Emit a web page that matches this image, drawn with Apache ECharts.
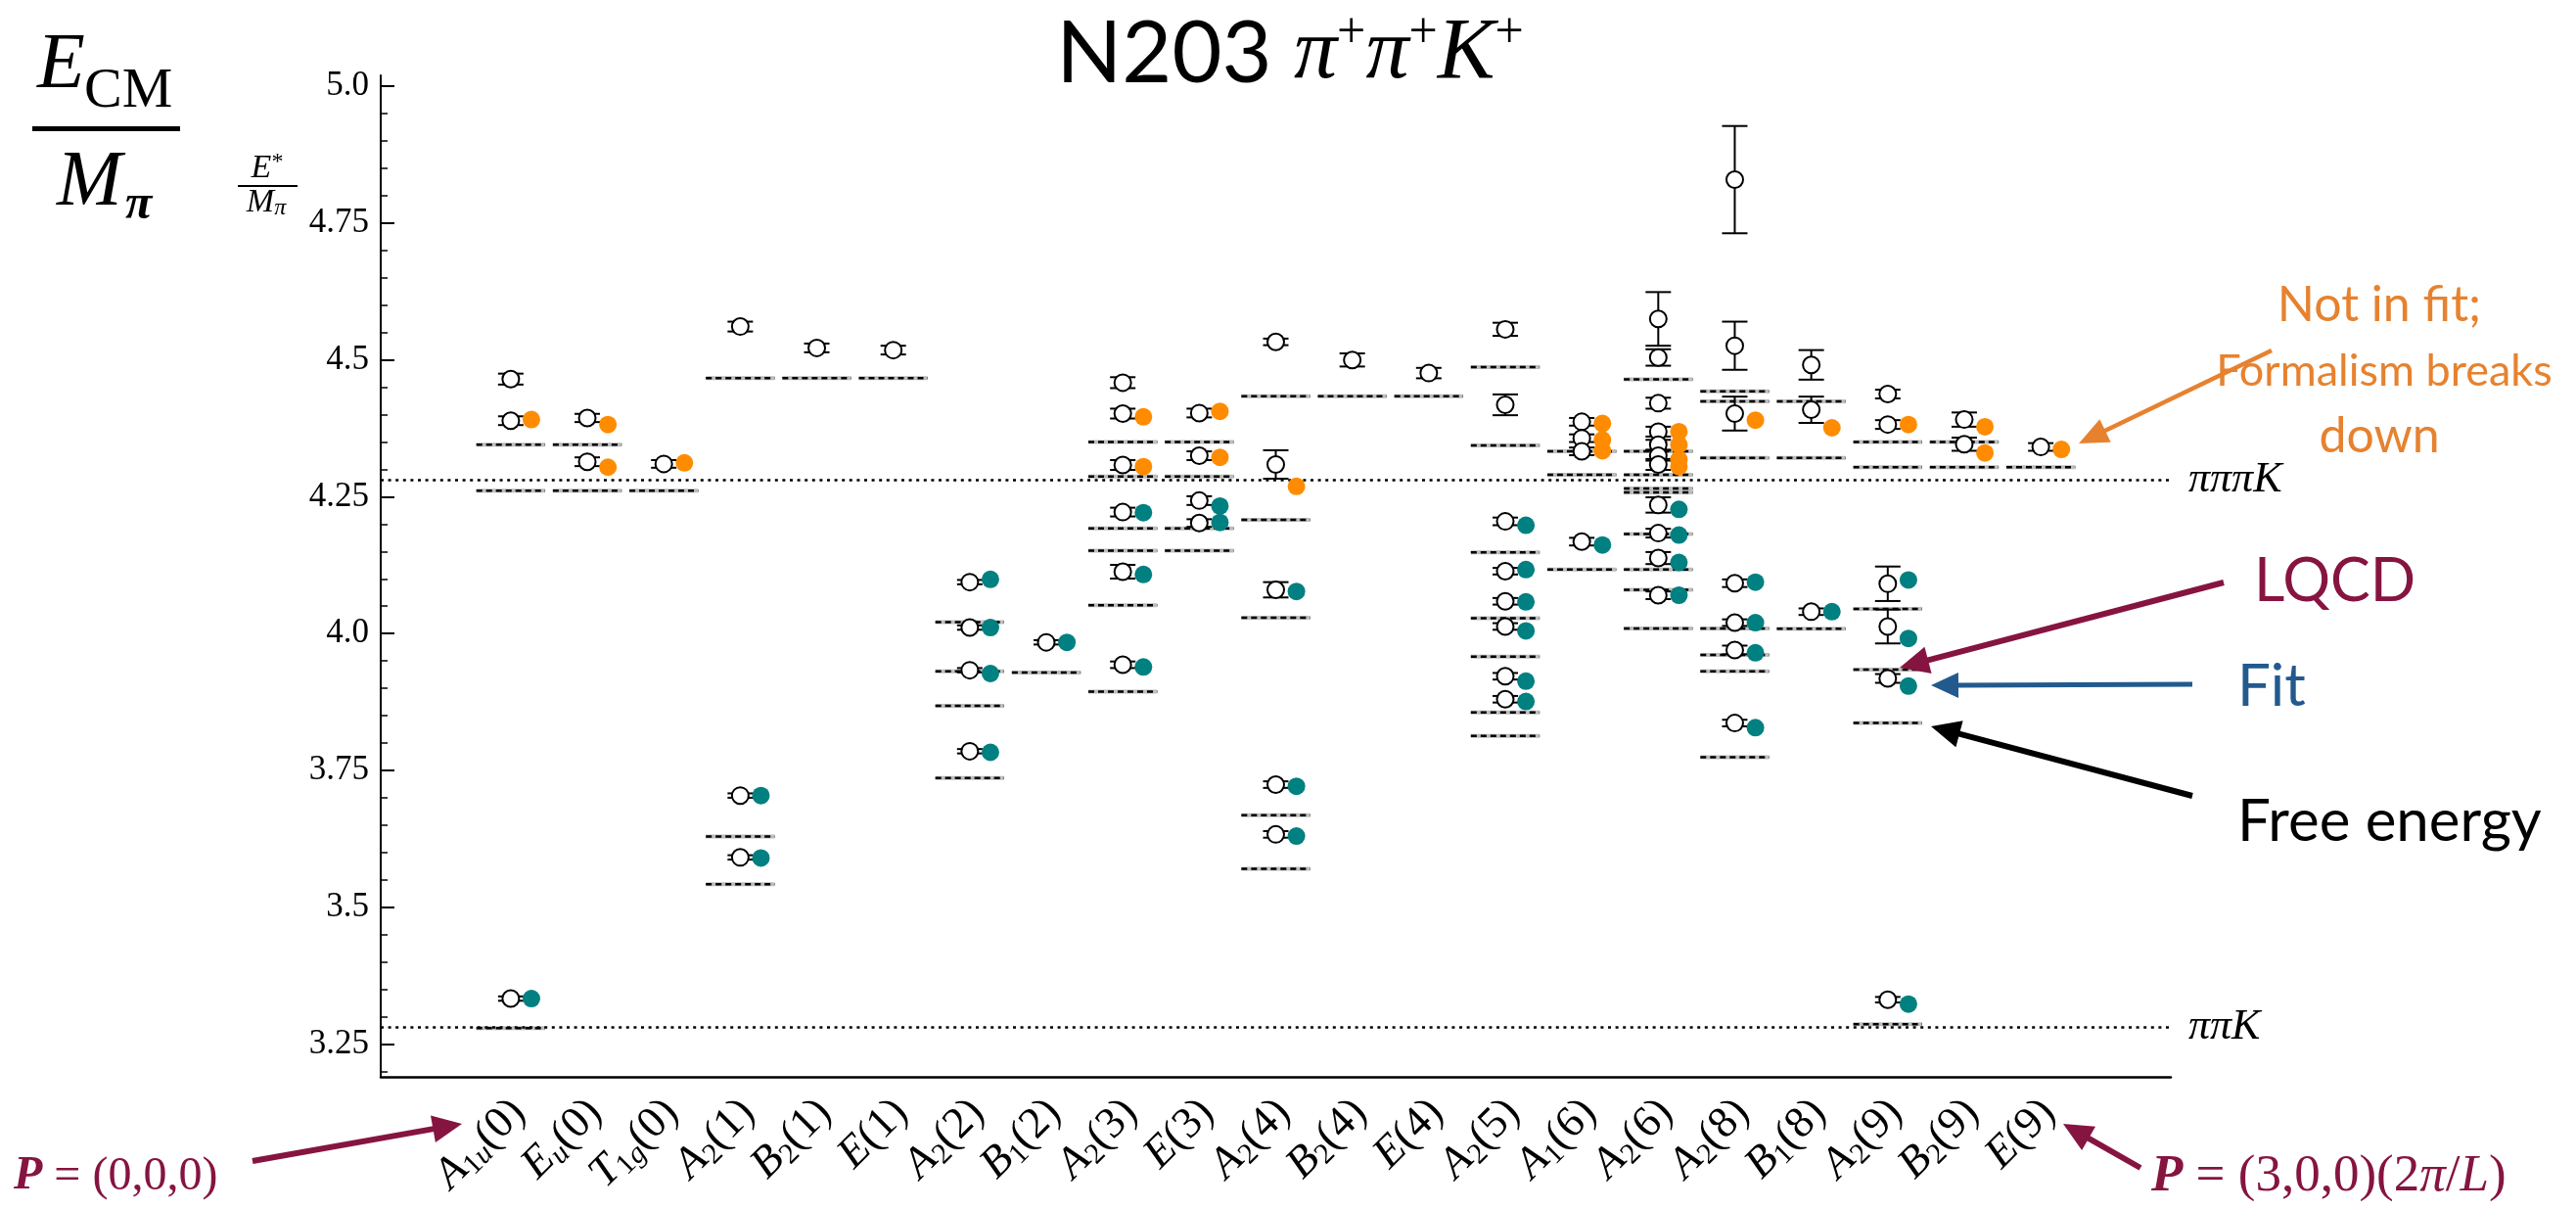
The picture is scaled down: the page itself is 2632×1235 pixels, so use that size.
<!DOCTYPE html>
<html>
<head>
<meta charset="utf-8">
<script src="https://cdn.jsdelivr.net/npm/echarts@6/dist/echarts.min.js"></script>
<style>
  html, body { margin: 0; padding: 0; background: #fff; }
  #chart { width: 2632px; height: 1235px; }
</style>
</head>
<body>
<div id="chart"></div>
<script>
// ---- Irreducible representations (x categories) ----
const irrepBase  = ['A','E','T','A','B','E','A','B','A','E','A','B','E','A','A','A','A','B','A','B','E'];
const irrepSub   = ['1u','u','1g','2','2','','2','1','2','','2','2','','2','1','2','2','1','2','2',''];
const irrepFrame = [0,0,0,1,1,1,2,2,3,3,4,4,4,5,6,6,8,8,9,9,9];

// ---- Lattice QCD levels (E*/M_pi) and their errors, one list per irrep ----
const lqcdEnergy = [
  [4.465, 4.389, 3.333],
  [4.394, 4.314],
  [4.310],
  [4.561, 3.704, 3.591],
  [4.522],
  [4.518],
  [4.094, 4.011, 3.933, 3.785],
  [3.984],
  [4.4585, 4.402, 4.308, 4.222, 4.113, 3.943],
  [4.403, 4.325, 4.243, 4.202],
  [4.533, 4.309, 4.080, 3.724, 3.633],
  [4.500],
  [4.476],
  [4.556, 4.418, 4.205, 4.114, 4.059, 4.013, 3.922, 3.880],
  [4.387, 4.357, 4.333, 4.168],
  [4.575, 4.5045, 4.421, 4.369, 4.345, 4.325, 4.309, 4.235, 4.1835, 4.138, 4.070],
  [4.8295, 4.526, 4.402, 4.092, 4.020, 3.970, 3.8365],
  [4.491, 4.409, 4.040],
  [4.4377, 4.382, 4.091, 4.013, 3.918, 3.331],
  [4.391, 4.346],
  [4.341]
];
const lqcdError = [
  [0.010, 0.008, 0.004],
  [0.0075, 0.008],
  [0.007],
  [0.009, 0.004, 0.004],
  [0.008],
  [0.008],
  [0.004, 0.004, 0.004, 0.004],
  [0.004],
  [0.010, 0.009, 0.009, 0.008, 0.0125, 0.006],
  [0.008, 0.008, 0.008, 0.007],
  [0.006, 0.026, 0.014, 0.006, 0.006],
  [0.012],
  [0.0095],
  [0.012, 0.019, 0.007, 0.006, 0.006, 0.006, 0.006, 0.006],
  [0.007, 0.007, 0.007, 0.007],
  [0.049, 0.015, 0.010, 0.009, 0.009, 0.009, 0.010, 0.014, 0.008, 0.011, 0.007],
  [0.098, 0.044, 0.031, 0.007, 0.006, 0.008, 0.006],
  [0.027, 0.024, 0.006],
  [0.008, 0.008, 0.0315, 0.031, 0.008, 0.005],
  [0.013, 0.012],
  [0.007]
];

// ---- Fit predictions: levels used in the fit ----
const fitIncluded = [
  [3.333], [], [], [3.704, 3.590], [], [],
  [4.099, 4.011, 3.927, 3.783], [3.984],
  [4.221, 4.108, 3.939], [4.233, 4.203], [4.077, 3.721, 3.630], [], [],
  [4.198, 4.117, 4.058, 4.005, 3.913, 3.876], [4.162], [4.227, 4.180, 4.130, 4.070],
  [4.094, 4.020, 3.965, 3.828], [4.040], [4.098, 3.991, 3.904, 3.323], [], []
];
// ---- Fit predictions: levels left out of the fit ----
const fitExcluded = [
  [4.391], [4.382, 4.304], [4.312], [], [], [], [], [],
  [4.396, 4.305], [4.406, 4.322], [4.269], [], [], [], [4.384, 4.354, 4.334],
  [4.369, 4.345, 4.318, 4.305], [4.390], [4.376], [4.382], [4.378, 4.330], [4.3365]
];

// ---- Non-interacting (free) energies ----
const freeEnergy = [
  [4.345, 4.261, 3.279],
  [4.345, 4.261],
  [4.261],
  [4.467, 3.629, 3.542],
  [4.467],
  [4.467],
  [4.021, 3.931, 3.868, 3.736],
  [3.929],
  [4.350, 4.287, 4.192, 4.1515, 4.052, 3.894],
  [4.350, 4.287, 4.192, 4.1515],
  [4.4335, 4.208, 4.029, 3.668, 3.570],
  [4.4335],
  [4.4335],
  [4.487, 4.344, 4.1485, 4.028, 3.958, 3.856, 3.813],
  [4.333, 4.290, 4.117],
  [4.4645, 4.333, 4.290, 4.265, 4.258, 4.182, 4.117, 4.080, 4.0095],
  [4.4425, 4.4245, 4.321, 4.0093, 3.961, 3.931, 3.774],
  [4.4245, 4.321, 4.009],
  [4.350, 4.304, 4.045, 3.934, 3.8365, 3.286],
  [4.350, 4.304],
  [4.304]
];

// ---- Thresholds ----
const thresholdValues = [4.278, 3.278];
const thresholdNames  = ['πππK', 'ππK'];

// ---- Axis ticks ----
const yMajorTicks  = [3.25, 3.5, 3.75, 4.0, 4.25, 4.5, 4.75, 5.0];
const yMajorLabels = ['3.25', '3.5', '3.75', '4.0', '4.25', '4.5', '4.75', '5.0'];
const yMinorTicks  = [3.2, 3.3, 3.35, 3.4, 3.45, 3.55, 3.6, 3.65, 3.7, 3.8, 3.85, 3.9, 3.95,
                      4.05, 4.1, 4.15, 4.2, 4.3, 4.35, 4.4, 4.45, 4.55, 4.6, 4.65, 4.7,
                      4.8, 4.85, 4.9, 4.95];
const xTicks = irrepBase.map((_, i) => i);

// ---- Layout / style constants ----
const X_MIN = -1.7, X_MAX = 21.7, Y_MIN = 3.19, Y_MAX = 5.02;
const FIT_SHIFT = 0.27;       // filled markers sit just right of the lattice point
const LEVEL_HALF = 0.45;      // half width of a free-energy dash
const SERIF = 'Liberation Serif';
const SANS = 'Lato';
const TEAL = '#008080';
const ORANGE = '#ff8c00';
const MAROON = '#861440';
const NOTE_ORANGE = '#e6822f';
const LABEL_ANGLE = Math.PI / 4;
const LABEL_BIG = 45, LABEL_SMALL = 30;

// Text pieces of an irrep name: [text, italic?, size, shift below the baseline]
function irrepPieces(i) {
  const out = [[irrepBase[i], true, LABEL_BIG, 0]];
  for (const ch of irrepSub[i]) out.push([ch, !/[0-9]/.test(ch), LABEL_SMALL, 10]);
  out.push(['(' + irrepFrame[i] + ')', false, LABEL_BIG, 0]);
  return out;
}
const measureCtx = document.createElement('canvas').getContext('2d');
function pieceFont(p) { return (p[1] ? 'italic ' : '') + p[2] + 'px "' + SERIF + '"'; }
function pieceWidth(p) { measureCtx.font = pieceFont(p); return measureCtx.measureText(p[0]).width; }

const lqcdPoints = [], errPoints = [], inPoints = [], outPoints = [], freePoints = [];
lqcdEnergy.forEach((lv, i) => lv.forEach((v, k) => {
  lqcdPoints.push([i, v]);
  errPoints.push([i, v, lqcdError[i][k]]);
}));
fitIncluded.forEach((lv, i) => lv.forEach(v => inPoints.push([i + FIT_SHIFT, v])));
fitExcluded.forEach((lv, i) => lv.forEach(v => outPoints.push([i + FIT_SHIFT, v])));
freeEnergy.forEach((lv, i) => lv.forEach(v => freePoints.push([i, v])));

function arrow(x1, y1, x2, y2, color, w, hl, hw) {
  const dx = x2 - x1, dy = y2 - y1, L = Math.hypot(dx, dy);
  const ux = dx / L, uy = dy / L, px = -uy, py = ux;
  const bx = x2 - ux * hl, by = y2 - uy * hl;
  return [
    { type: 'line', z: 50, shape: { x1, y1, x2: bx + ux * 2, y2: by + uy * 2 }, style: { stroke: color, lineWidth: w } },
    { type: 'polygon', z: 50, shape: { points: [[x2, y2], [bx + px * hw / 2, by + py * hw / 2], [bx - px * hw / 2, by - py * hw / 2]] }, style: { fill: color } }
  ];
}
function txt(x, y, text, style) {
  return { type: 'text', z: 50, x, y, style: Object.assign({ text, fill: '#000', align: 'left', verticalAlign: 'middle' }, style) };
}

const graphics = [
  // title
  txt(1318, 56, '{n|N203 }{m|π}{p|+}{m|π}{p|+}{m|K}{p|+}', {
    align: 'center',
    rich: {
      n: { fontFamily: SANS, fontSize: 88, lineHeight: 96, fill: '#000' },
      m: { fontFamily: SERIF, fontStyle: 'italic', fontSize: 88, lineHeight: 96, fill: '#000' },
      p: { fontFamily: SERIF, fontSize: 52, lineHeight: 96, verticalAlign: 'top', fill: '#000' }
    }
  }),
  // big axis caption E_CM / M_pi
  txt(38, 68, 'E', { fontFamily: SERIF, fontStyle: 'italic', fontSize: 80 }),
  txt(86, 94, 'CM', { fontFamily: SERIF, fontSize: 58 }),
  { type: 'rect', z: 50, shape: { x: 33, y: 129, width: 151, height: 5 }, style: { fill: '#000' } },
  txt(58, 188, 'M', { fontFamily: SERIF, fontStyle: 'italic', fontSize: 80 }),
  txt(128, 210, 'π', { fontFamily: SERIF, fontStyle: 'italic', fontWeight: 'bold', fontSize: 50 }),
  // small axis caption E*/M_pi
  txt(273, 172, '{e|E}{s|*}', {
    align: 'center',
    rich: { e: { fontFamily: SERIF, fontStyle: 'italic', fontSize: 34, lineHeight: 36, fill: '#000' },
            s: { fontFamily: SERIF, fontSize: 24, lineHeight: 30, verticalAlign: 'top', fill: '#000' } }
  }),
  { type: 'rect', z: 50, shape: { x: 243, y: 189, width: 61, height: 2 }, style: { fill: '#000' } },
  txt(272, 207, '{m|M}{s|π}', {
    align: 'center',
    rich: { m: { fontFamily: SERIF, fontStyle: 'italic', fontSize: 34, lineHeight: 36, fill: '#000' },
            s: { fontFamily: SERIF, fontStyle: 'italic', fontSize: 24, lineHeight: 26, verticalAlign: 'bottom', fill: '#000' } }
  }),
  // annotations on the right
  txt(2431, 312, 'Not in fit;', { align: 'center', fontFamily: SANS, fontSize: 50, fill: NOTE_ORANGE }),
  txt(2436, 379, 'Formalism breaks', { align: 'center', fontFamily: SANS, fontSize: 45, fill: NOTE_ORANGE }),
  txt(2431, 446, 'down', { align: 'center', fontFamily: SANS, fontSize: 50, fill: NOTE_ORANGE }),
  txt(2303, 594, 'LQCD', { fontFamily: SANS, fontSize: 61, fill: MAROON }),
  txt(2286, 702, 'Fit', { fontFamily: SANS, fontSize: 60, fill: '#225a8e' }),
  txt(2286, 840, 'Free energy', { fontFamily: SANS, fontSize: 60, fill: '#000' }),
  // momentum frames at the bottom
  txt(14, 1202, '{b|P}{r| = (0,0,0)}', {
    rich: { b: { fontFamily: SERIF, fontStyle: 'italic', fontWeight: 'bold', fontSize: 48, fill: MAROON },
            r: { fontFamily: SERIF, fontSize: 48, fill: MAROON } }
  }),
  txt(2198, 1202, '{b|P}{r| = (3,0,0)(2}{i|π}{r|/}{i|L}{r|)}', {
    rich: { b: { fontFamily: SERIF, fontStyle: 'italic', fontWeight: 'bold', fontSize: 53, fill: MAROON },
            r: { fontFamily: SERIF, fontSize: 53, fill: MAROON },
            i: { fontFamily: SERIF, fontStyle: 'italic', fontSize: 53, fill: MAROON } }
  })
].concat(
  arrow(2321, 358, 2124, 453, NOTE_ORANGE, 4.5, 30, 26),
  arrow(2272, 595, 1941, 682, MAROON, 6, 30, 28),
  arrow(2240, 699, 1973, 700, '#225a8e', 5, 28, 26),
  arrow(2240, 813, 1973, 742, '#000', 6, 30, 28),
  arrow(258, 1186, 472, 1148, MAROON, 6, 30, 28),
  arrow(2187, 1193, 2108, 1148, MAROON, 6, 30, 28)
);

const chart = echarts.init(document.getElementById('chart'), null, { renderer: 'canvas' });

chart.setOption({
  animation: false,
  backgroundColor: '#fff',
  grid: { left: 389, right: 414, top: 77, bottom: 135, containLabel: false },
  xAxis: {
    type: 'value', min: X_MIN, max: X_MAX,
    axisLine: { show: true, onZero: false, lineStyle: { color: '#000', width: 2.5 } },
    axisTick: { show: false },
    splitLine: { show: false },
    axisLabel: { show: false }
  },
  yAxis: [{
    type: 'value', min: Y_MIN, max: Y_MAX, position: 'left',
    axisLine: { show: true, onZero: false, lineStyle: { color: '#000', width: 2 } },
    axisTick: { show: true, inside: true, length: 14, customValues: yMajorTicks, lineStyle: { color: '#000', width: 2 } },
    axisLabel: {
      customValues: yMajorTicks, margin: 12, color: '#000',
      fontFamily: SERIF, fontSize: 35,
      formatter: v => yMajorLabels[yMajorTicks.findIndex(t => Math.abs(t - v) < 1e-6)]
    },
    splitLine: { show: false }
  }, {
    type: 'value', min: Y_MIN, max: Y_MAX, position: 'left',
    axisLine: { show: false, onZero: false },
    axisTick: { show: true, inside: true, length: 7, customValues: yMinorTicks, lineStyle: { color: '#000', width: 1.5 } },
    axisLabel: { show: false },
    splitLine: { show: false }
  }],
  series: [
    {
      // thresholds
      type: 'line', data: [], silent: true,
      markLine: {
        silent: true, symbol: ['none', 'none'], animation: false,
        lineStyle: { color: '#000', width: 2.5, type: [3, 4.6] },
        label: {
          show: true, position: 'end', distance: 18, formatter: '{b}',
          fontFamily: SERIF, fontStyle: 'italic', fontSize: 44, color: '#000'
        },
        data: thresholdValues.map((v, k) => ({ yAxis: v, name: thresholdNames[k] }))
      }
    },
    {
      // free energies
      type: 'custom', silent: true, z: 2,
      data: freePoints, encode: { x: 0, y: 1 },
      renderItem(params, api) {
        const a = api.coord([api.value(0) - LEVEL_HALF, api.value(1)]);
        const b = api.coord([api.value(0) + LEVEL_HALF, api.value(1)]);
        return { type: 'group', children: [
          { type: 'line', shape: { x1: a[0], y1: a[1], x2: b[0], y2: b[1] }, style: { stroke: '#bdbdbd', lineWidth: 4 } },
          { type: 'line', shape: { x1: a[0], y1: a[1], x2: b[0], y2: b[1] }, style: { stroke: '#000', lineWidth: 2.5, lineDash: [6, 4] } }
        ] };
      }
    },
    {
      // error bars of the lattice levels
      type: 'custom', silent: true, z: 3,
      data: errPoints, encode: { x: 0, y: 1 },
      renderItem(params, api) {
        const x = api.value(0), y = api.value(1), e = api.value(2);
        const t = api.coord([x, y + e]), b = api.coord([x, y - e]);
        const c = 13, st = { stroke: '#000', lineWidth: 2 };
        return { type: 'group', children: [
          { type: 'line', shape: { x1: t[0], y1: t[1], x2: b[0], y2: b[1] }, style: st },
          { type: 'line', shape: { x1: t[0] - c, y1: t[1], x2: t[0] + c, y2: t[1] }, style: st },
          { type: 'line', shape: { x1: b[0] - c, y1: b[1], x2: b[0] + c, y2: b[1] }, style: st }
        ] };
      }
    },
    {
      name: 'LQCD', type: 'scatter', z: 4, silent: true,
      data: lqcdPoints, symbol: 'circle', symbolSize: 17,
      itemStyle: { color: '#fff', borderColor: '#000', borderWidth: 2, opacity: 1 }
    },
    {
      name: 'Fit', type: 'scatter', z: 5, silent: true,
      data: inPoints, symbol: 'circle', symbolSize: 18,
      itemStyle: { color: TEAL, opacity: 1 }
    },
    {
      name: 'Not in fit', type: 'scatter', z: 5, silent: true,
      data: outPoints, symbol: 'circle', symbolSize: 18,
      itemStyle: { color: ORANGE, opacity: 1 }
    },
    {
      // irrep names under the x axis, slanted at 45 degrees; each piece is its own rotated text
      type: 'custom', silent: true, z: 6, clip: false,
      data: xTicks.map(i => [i, Y_MIN]), encode: { x: 0, y: 1 },
      renderItem(params, api) {
        const i = api.value(0);
        const p = api.coord([i, api.value(1)]);
        const ax = p[0] + 8, ay = p[1] + 30;
        const c = Math.cos(LABEL_ANGLE), s = Math.sin(LABEL_ANGLE);
        const pieces = irrepPieces(i);
        const widths = pieces.map(pieceWidth);
        let along = -widths.reduce((a, b) => a + b, 0);
        const children = pieces.map((pc, k) => {
          const d = pc[3];
          const el = {
            type: 'text',
            x: ax + along * c + d * s,
            y: ay - along * s + d * c,
            rotation: LABEL_ANGLE,
            style: {
              text: pc[0], fill: '#000', align: 'left', verticalAlign: 'middle',
              fontFamily: SERIF, fontSize: pc[2], fontStyle: pc[1] ? 'italic' : 'normal'
            }
          };
          along += widths[k];
          return el;
        });
        return { type: 'group', children };
      }
    }
  ],
  graphic: { elements: graphics }
});
</script>
</body>
</html>
